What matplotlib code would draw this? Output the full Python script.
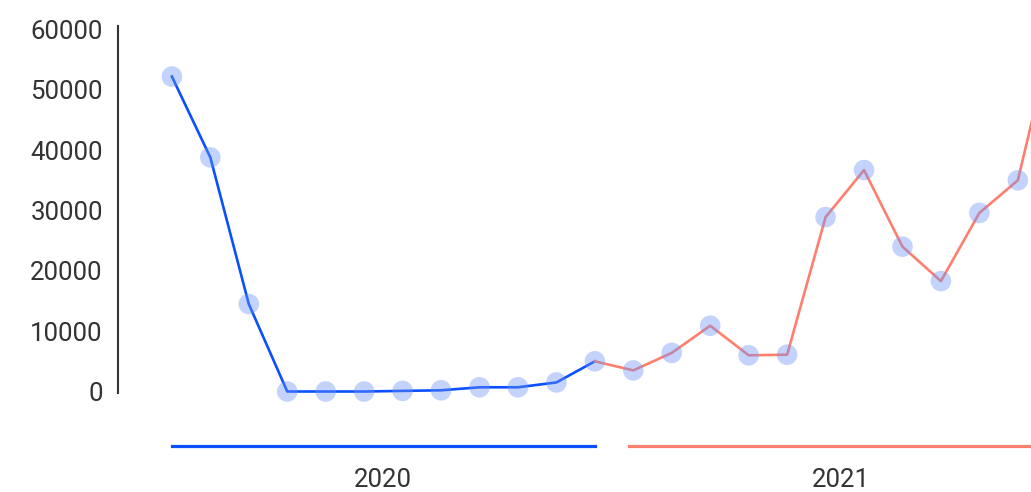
import matplotlib.pyplot as plt
import numpy as np

plt.rcParams['font.family'] = ['Roboto', 'DejaVu Sans']

# monthly values, Jan 2020 .. Dec 2021
years = ['2020', '2021']
values_2020 = [52200, 38800, 14500, 0, 0, 0, 100, 200, 700, 700, 1500, 5000]
values_2021 = [3500, 6400, 10900, 6000, 6100, 28900, 36700, 24000, 18300, 29600, 35000, 61800]
y_ticks = [0, 10000, 20000, 30000, 40000, 50000, 60000]

blue = '#0a50ff'
salmon = '#ff7f6e'
dot = '#6c93f7'
text_col = '#333333'

fig = plt.figure(figsize=(10.31, 4.92), dpi=100)
# axes runs past the right edge so the last month is cut off
ax = fig.add_axes([0.1145, 0.2012, 0.9697, 0.746])

x20 = np.arange(12)
x21 = np.arange(12, 24)

ax.plot(x20, values_2020, color=blue, lw=1.9, zorder=2)
# 2021 line starts from the last 2020 point
ax.plot(np.r_[x20[-1], x21], [values_2020[-1]] + values_2021, color=salmon, lw=1.9, zorder=2)
ax.scatter(np.r_[x20, x21], values_2020 + values_2021, s=220, color=dot, alpha=0.4,
           edgecolors='none', zorder=3, clip_on=False)

ax.set_xlim(-1.4, 24.6)
ax.set_ylim(-250, 60580)
ax.set_yticks(y_ticks)
ax.set_yticklabels([str(v) for v in y_ticks])
ax.tick_params(axis='y', length=0, pad=11, labelsize=18.5, labelcolor=text_col)
ax.set_xticks([])

for s in ['top', 'right', 'bottom']:
    ax.spines[s].set_visible(False)
ax.spines['left'].set_color(text_col)
ax.spines['left'].set_linewidth(1.5)

# year brackets under the plot
trans = ax.get_xaxis_transform()
spans = [(0, 11.0), (11.9, 22.9)]
for (a, b), col, yr in zip(spans, [blue, salmon], years):
    ax.plot([a, b], [-0.145, -0.145], color=col, lw=2.3, transform=trans, clip_on=False)
    ax.text((a + b) / 2, -0.238, yr, transform=trans, ha='center', va='center',
            fontsize=18.5, color=text_col)

fig.savefig('out.png', dpi=100)
